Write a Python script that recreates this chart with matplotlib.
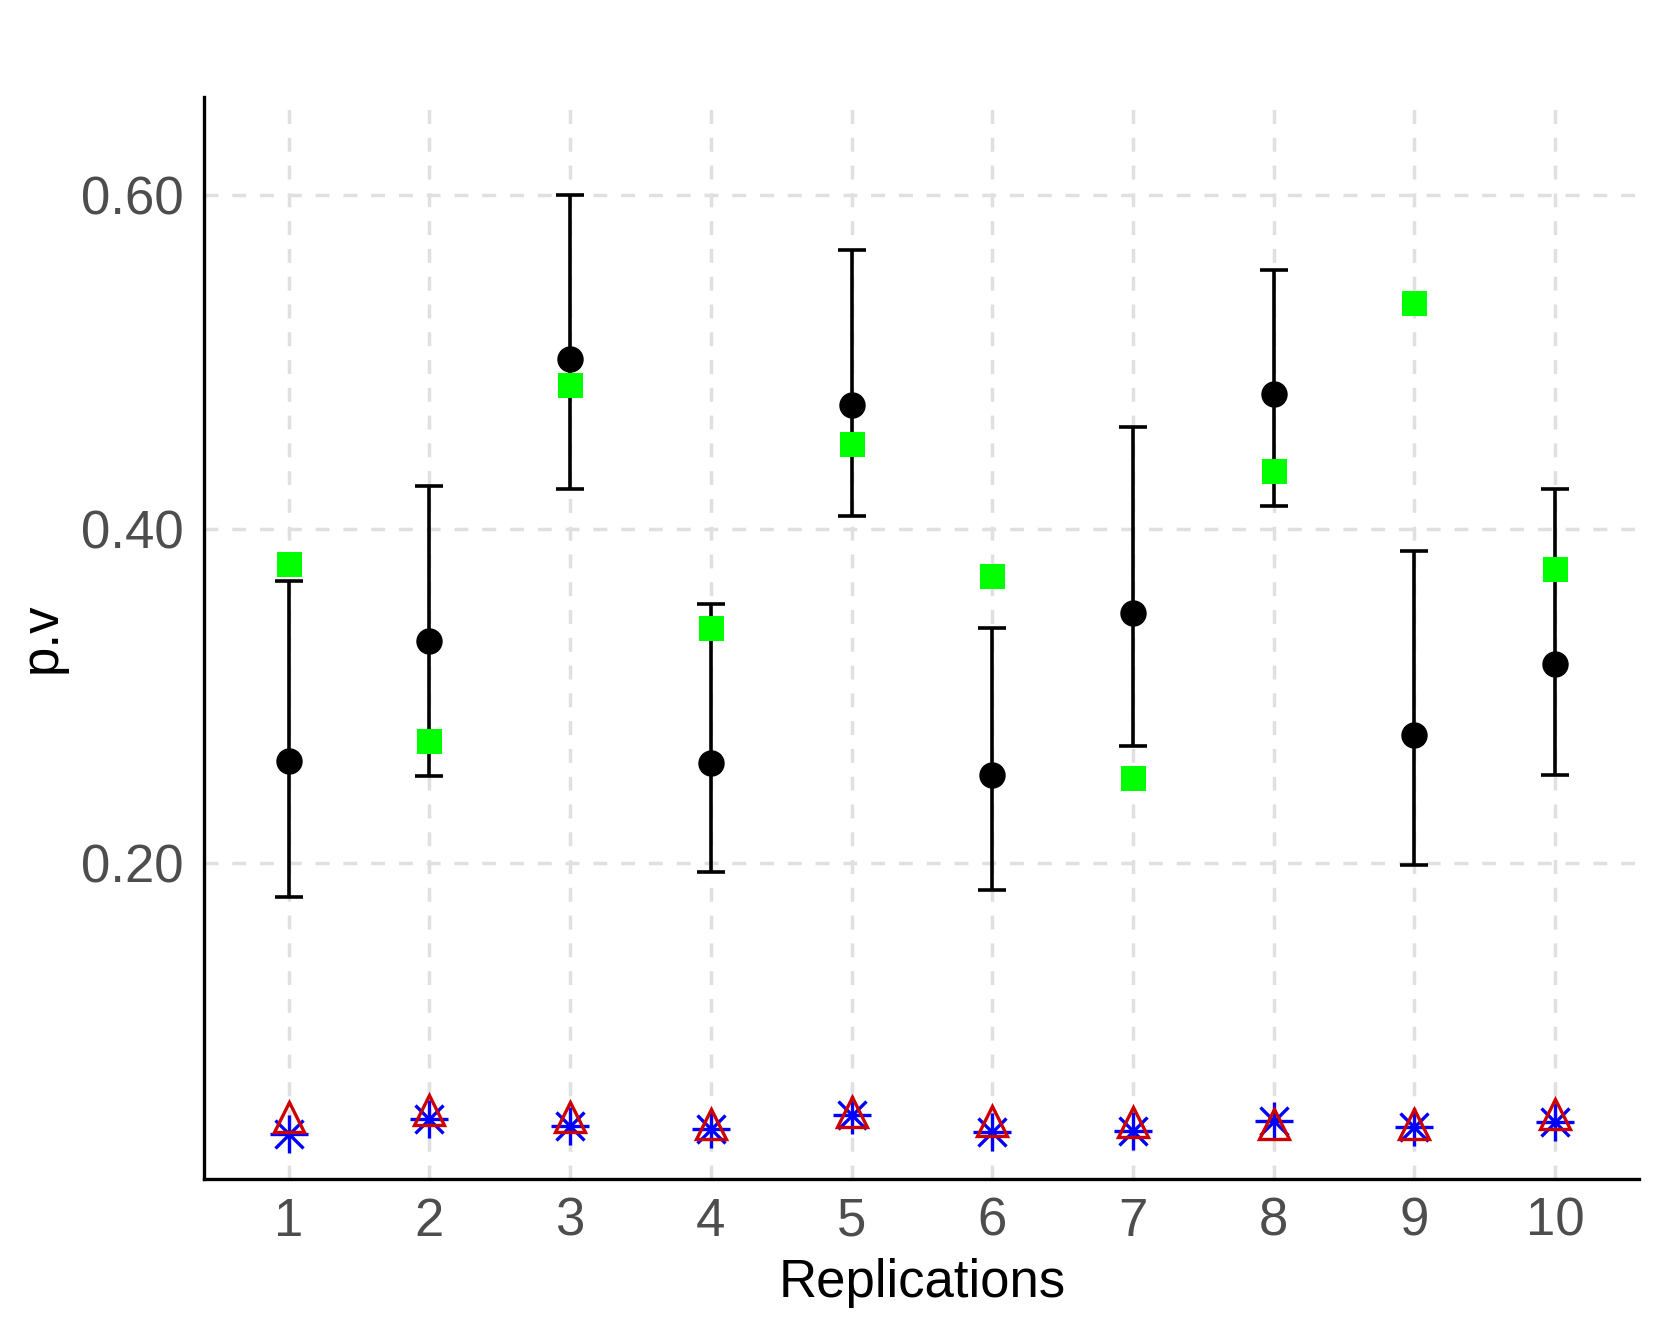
import matplotlib
matplotlib.use("Agg")
from matplotlib import pyplot as plt

plt.rcParams['font.family'] = ['Liberation Sans', 'DejaVu Sans']

replications = [1, 2, 3, 4, 5, 6, 7, 8, 9, 10]

# black points with error bars
mean_pv = [0.261, 0.333, 0.502, 0.260, 0.474, 0.253, 0.350, 0.481, 0.277, 0.319]
upper_pv = [0.369, 0.426, 0.600, 0.355, 0.567, 0.341, 0.461, 0.555, 0.387, 0.424]
lower_pv = [0.180, 0.252, 0.424, 0.195, 0.408, 0.184, 0.270, 0.414, 0.199, 0.253]

# green squares
green_pv = [0.379, 0.273, 0.486, 0.341, 0.451, 0.372, 0.251, 0.435, 0.535, 0.376]

# blue stars and red triangles near the bottom
star_pv = [0.038, 0.047, 0.043, 0.041, 0.049, 0.039, 0.040, 0.046, 0.042, 0.045]
tri_pv = [0.048, 0.052, 0.048, 0.044, 0.051, 0.046, 0.045, 0.044, 0.044, 0.050]

fig = plt.figure(figsize=(16.61, 13.32), dpi=100)
ax = fig.add_axes([0.123, 0.115, 0.864, 0.812])

yerr = [[m - l for m, l in zip(mean_pv, lower_pv)],
        [u - m for m, u in zip(mean_pv, upper_pv)]]
ax.errorbar(replications, mean_pv, yerr=yerr, fmt='o', color='black',
            ecolor='black', elinewidth=2.6, capsize=10, capthick=2.6,
            markersize=18, zorder=3)
ax.plot(replications, green_pv, 's', color='#00ff00', markersize=18,
        markeredgewidth=0, zorder=4)
ax.plot(replications, star_pv, '+', color='blue', markersize=28,
        markeredgewidth=2.4, zorder=5)
ax.plot(replications, star_pv, 'x', color='blue', markersize=20,
        markeredgewidth=2.4, zorder=5)
ax.plot(replications, tri_pv, '^', markerfacecolor='none',
        markeredgecolor='#cd0000', markersize=22, markeredgewidth=2.4, zorder=6)

ax.set_xlim(0.4, 10.6)
ax.set_ylim(0.0111, 0.6584)
ax.set_xticks(replications)
ax.set_xticklabels([str(r) for r in replications])
ax.set_yticks([0.2, 0.4, 0.6])
ax.set_yticklabels(['0.20', '0.40', '0.60'])

ax.grid(True, color='#e0e0e0', linestyle=(0, (4, 4)), linewidth=2.5)
ax.set_axisbelow(True)
for s in ['top', 'right']:
    ax.spines[s].set_visible(False)
for s in ['left', 'bottom']:
    ax.spines[s].set_linewidth(2.4)
    ax.spines[s].set_color('black')

ax.tick_params(axis='both', length=0, labelsize=38, labelcolor='#4d4d4d')
ax.tick_params(axis='y', pad=15)
ax.tick_params(axis='x', pad=13)
ax.set_xlabel('Replications', fontsize=38, labelpad=8)
ax.set_ylabel('p.v', fontsize=38, labelpad=10)

fig.savefig('out.png', dpi=100)
